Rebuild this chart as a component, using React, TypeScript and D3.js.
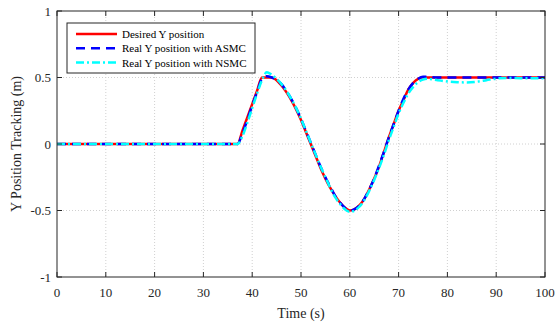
import React, { useEffect, useRef } from 'react'
import * as d3 from 'd3'

const timeSec = [0, 10, 20, 30, 36, 37, 38, 39, 40, 41, 42, 43, 44, 45, 46, 47, 48, 49, 50, 51, 52, 53, 54, 55, 56, 57, 58, 59, 60, 61, 62, 63, 64, 65, 66, 67, 68, 69, 70, 71, 72, 73, 74, 75, 76, 78, 80, 82, 84, 86, 88, 90, 92, 95, 100]

const desiredY = [0, 0, 0, 0, 0, 0, 0.1, 0.2, 0.3, 0.4, 0.5, 0.5, 0.5, 0.48, 0.44, 0.39, 0.33, 0.26, 0.18, 0.09, 0, -0.09, -0.18, -0.26, -0.33, -0.39, -0.44, -0.48, -0.5, -0.49, -0.46, -0.41, -0.34, -0.26, -0.17, -0.06, 0.05, 0.15, 0.25, 0.33, 0.41, 0.46, 0.49, 0.5, 0.5, 0.5, 0.5, 0.5, 0.5, 0.5, 0.5, 0.5, 0.5, 0.5, 0.5]

const asmcY = [0, 0, 0, 0, 0, 0, 0.08, 0.18, 0.29, 0.39, 0.49, 0.51, 0.5, 0.48, 0.45, 0.4, 0.34, 0.27, 0.19, 0.1, 0.01, -0.08, -0.17, -0.25, -0.32, -0.39, -0.44, -0.48, -0.5, -0.49, -0.46, -0.41, -0.34, -0.26, -0.16, -0.06, 0.05, 0.15, 0.25, 0.34, 0.41, 0.46, 0.49, 0.505, 0.505, 0.5, 0.5, 0.5, 0.5, 0.5, 0.5, 0.5, 0.5, 0.5, 0.5]

const nsmcY = [0, 0, 0, 0, 0, 0, 0.06, 0.16, 0.27, 0.38, 0.48, 0.54, 0.52, 0.49, 0.45, 0.4, 0.34, 0.27, 0.19, 0.1, 0.01, -0.08, -0.17, -0.25, -0.33, -0.4, -0.45, -0.49, -0.51, -0.5, -0.47, -0.42, -0.35, -0.27, -0.18, -0.08, 0.03, 0.13, 0.23, 0.31, 0.38, 0.43, 0.465, 0.485, 0.49, 0.48, 0.47, 0.465, 0.463, 0.468, 0.48, 0.492, 0.497, 0.495, 0.495]

const xTicks = [0, 10, 20, 30, 40, 50, 60, 70, 80, 90, 100]
const yTicks = [-1, -0.5, 0, 0.5, 1]

const seriesNames = ['Desired Y position', 'Real Y position with ASMC', 'Real Y position with NSMC']

export default function App() {
    const svgRef = useRef<SVGSVGElement>(null)
    const width = 555
    const height = 327

    useEffect(() => {
        if (!svgRef.current) return
        const svg = d3.select(svgRef.current)
        svg.selectAll("*").remove()

        const margin = { top: 11, right: 10, bottom: 50, left: 57 }
        const innerWidth = width - margin.left - margin.right
        const innerHeight = height - margin.top - margin.bottom
        const font = "'Liberation Serif', 'Times New Roman', serif"

        const x = d3.scaleLinear().domain([0, 100]).range([0, innerWidth])
        const y = d3.scaleLinear().domain([-1, 1]).range([innerHeight, 0])

        svg.append("rect").attr("width", width).attr("height", height).attr("fill", "#fff")

        const g = svg.append("g").attr("transform", `translate(${margin.left},${margin.top})`)

        // grid
        g.selectAll(".gx").data(xTicks.slice(1, -1)).enter().append("line")
            .attr("x1", d => x(d)).attr("x2", d => x(d))
            .attr("y1", 0).attr("y2", innerHeight)
            .attr("stroke", "#d0d0d0").attr("stroke-width", 1).attr("stroke-dasharray", "1,2")
        g.selectAll(".gy").data(yTicks.slice(1, -1)).enter().append("line")
            .attr("y1", d => y(d)).attr("y2", d => y(d))
            .attr("x1", 0).attr("x2", innerWidth)
            .attr("stroke", "#d0d0d0").attr("stroke-width", 1).attr("stroke-dasharray", "1,2")

        const pts = timeSec.map((t, i) => ({ t, d: desiredY[i], a: asmcY[i], n: nsmcY[i] }))
        const mkLine = (key: 'd' | 'a' | 'n') => d3.line<typeof pts[0]>()
            .x(p => x(p.t)).y(p => y(p[key])).curve(d3.curveMonotoneX)

        const styles = [
            { key: 'd' as const, color: "#ff0000", dash: null },
            { key: 'a' as const, color: "#0000ff", dash: "9,6" },
            { key: 'n' as const, color: "#00ffff", dash: "8,3,2,3" },
        ]

        styles.forEach(s => {
            g.append("path").datum(pts)
                .attr("fill", "none")
                .attr("stroke", s.color)
                .attr("stroke-width", 2.5)
                .attr("stroke-dasharray", s.dash)
                .attr("d", mkLine(s.key))
        })

        // axes box
        g.append("rect").attr("width", innerWidth).attr("height", innerHeight)
            .attr("fill", "none").attr("stroke", "#262626").attr("stroke-width", 1)

        const tl = 5
        xTicks.forEach(t => {
            g.append("line").attr("x1", x(t)).attr("x2", x(t)).attr("y1", innerHeight).attr("y2", innerHeight - tl).attr("stroke", "#262626")
            g.append("line").attr("x1", x(t)).attr("x2", x(t)).attr("y1", 0).attr("y2", tl).attr("stroke", "#262626")
            g.append("text").attr("x", x(t)).attr("y", innerHeight + 20)
                .attr("text-anchor", "middle").attr("font-family", font).attr("font-size", 13).attr("fill", "#262626")
                .text(t)
        })
        yTicks.forEach(t => {
            g.append("line").attr("x1", 0).attr("x2", tl).attr("y1", y(t)).attr("y2", y(t)).attr("stroke", "#262626")
            g.append("line").attr("x1", innerWidth).attr("x2", innerWidth - tl).attr("y1", y(t)).attr("y2", y(t)).attr("stroke", "#262626")
            g.append("text").attr("x", -6).attr("y", y(t) + 4.5)
                .attr("text-anchor", "end").attr("font-family", font).attr("font-size", 13).attr("fill", "#262626")
                .text(t)
        })

        // axis labels
        g.append("text").attr("x", innerWidth / 2).attr("y", innerHeight + 41)
            .attr("text-anchor", "middle").attr("font-family", font).attr("font-size", 14).attr("fill", "#262626")
            .text("Time (s)")
        g.append("text").attr("transform", `translate(${-36},${innerHeight / 2}) rotate(-90)`)
            .attr("text-anchor", "middle").attr("font-family", font).attr("font-size", 14).attr("fill", "#262626")
            .text("Y Position Tracking (m)")

        // legend
        const lg = g.append("g").attr("transform", "translate(10,12)")
        lg.append("rect").attr("width", 188).attr("height", 50)
            .attr("fill", "#fff").attr("stroke", "#262626").attr("stroke-width", 1)
        styles.forEach((s, i) => {
            const yy = 11 + i * 14.3
            lg.append("line").attr("x1", 9).attr("x2", 50).attr("y1", yy).attr("y2", yy)
                .attr("stroke", s.color).attr("stroke-width", 2.5).attr("stroke-dasharray", s.dash)
            lg.append("text").attr("x", 55).attr("y", yy + 4)
                .attr("font-family", font).attr("font-size", 11).attr("fill", "#000")
                .text(seriesNames[i])
        })
    }, [])

    return (
        <svg ref={svgRef} width={width} height={height} viewBox={`0 0 ${width} ${height}`}
            style={{ position: 'absolute', left: 0, top: 0 }} />
    )
}
